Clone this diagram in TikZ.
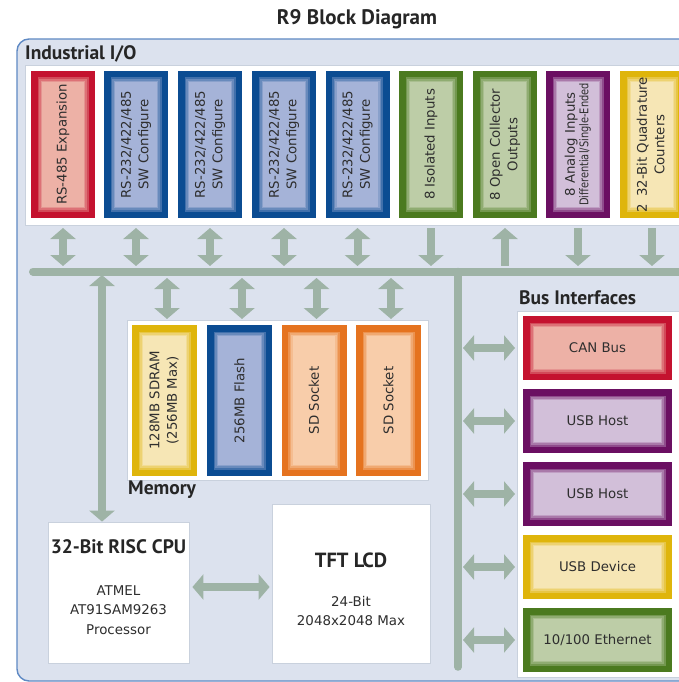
\documentclass[tikz,border=0pt]{standalone}
\usepackage{fontspec}
\usepackage{graphicx}
\usetikzlibrary{arrows.meta}
\newfontfamily\bodyfont{DejaVu Sans}
\newfontfamily\condfont[FakeStretch=0.82]{DejaVu Sans}
\newfontfamily\headfont{PT Sans}
\definecolor{redD}{HTML}{C4122F}\definecolor{redL}{HTML}{EDB1A6}
\definecolor{blueD}{HTML}{0B4C92}\definecolor{blueL}{HTML}{A5B3D8}
\definecolor{greenD}{HTML}{4B7A1F}\definecolor{greenL}{HTML}{BDCDA7}
\definecolor{purpD}{HTML}{6B0F62}\definecolor{purpL}{HTML}{D2BFD9}
\definecolor{yelD}{HTML}{DFB50B}\definecolor{yelL}{HTML}{F6E6B5}
\definecolor{oraD}{HTML}{E5731F}\definecolor{oraL}{HTML}{F8CDAA}
\definecolor{arrc}{HTML}{9EB3A6}
\definecolor{panelF}{HTML}{DCE2EE}
\definecolor{panelB}{HTML}{5F8AC4}
\definecolor{wboxB}{HTML}{C9D1DD}
\definecolor{txt}{HTML}{2E2E2E}
\begin{document}
\begin{tikzpicture}[x=1pt,y=-1pt,
  cbox/.style 2 args={draw=#1, line width=6.5pt, fill=#2, inner sep=0pt,
    path picture={
      \draw[#1!18!#2, line width=16pt] (path picture bounding box.south west) rectangle (path picture bounding box.north east);
      \draw[#1!40!#2, line width=13pt] (path picture bounding box.south west) rectangle (path picture bounding box.north east);
      \draw[#1!65!#2, line width=10pt] (path picture bounding box.south west) rectangle (path picture bounding box.north east);
    }, text=txt, font=\bodyfont\fontsize{13.3}{17.5}\selectfont},
  iobox/.style={minimum width=57.5pt, minimum height=140.5pt},
  membox/.style={minimum width=58.5pt, minimum height=144.5pt},
  busbox/.style={minimum width=142.5pt, minimum height=57.5pt},
  wbox/.style={draw=wboxB, line width=0.8pt, fill=white, inner sep=0pt},
  head/.style={font=\headfont\bfseries\fontsize{19.5}{22}\selectfont, text=black!85, inner sep=0pt},
  body/.style={font=\bodyfont\fontsize{13.4}{19.5}\selectfont, text=txt, inner sep=0pt, align=center},
  busline/.style={draw=arrc, line width=8pt, line cap=round},
  arr/.style={draw=arrc, line width=8pt},
  tip/.tip={Triangle[length=11pt,width=25pt]},
  dbl/.style={arr, tip-tip},
  dn/.style={arr, -tip},
  up/.style={arr, tip-},
]
\useasboundingbox (0,0) rectangle (679,682);
\clip (0,0) rectangle (679,682);
\fill[white] (0,0) rectangle (679,682);

% title
\node[head, font=\headfont\bfseries\fontsize{21}{24}\selectfont] (title) at (357,19) {R9 Block Diagram};

% outer panel
\draw[panelB, fill=panelF, line width=1.4pt, rounded corners=12pt] (17,39) rectangle (720,681);

% Industrial I/O band
\node[head, anchor=west] (iolabel) at (25,54) {Industrial I/O};
\node[wbox, anchor=north west, minimum width=700pt, minimum height=160pt] (ioband) at (25,65) {};

\node[cbox={redD}{redL}, iobox] (io1) at (63,144.5) {\rotatebox{90}{RS-485 Expansion}};
\node[cbox={blueD}{blueL}, iobox] (io2) at (136,144.5) {\rotatebox{90}{\begin{tabular}{@{}c@{}}RS-232/422/485\\SW Configure\end{tabular}}};
\node[cbox={blueD}{blueL}, iobox] (io3) at (210,144.5) {\rotatebox{90}{\begin{tabular}{@{}c@{}}RS-232/422/485\\SW Configure\end{tabular}}};
\node[cbox={blueD}{blueL}, iobox] (io4) at (284,144.5) {\rotatebox{90}{\begin{tabular}{@{}c@{}}RS-232/422/485\\SW Configure\end{tabular}}};
\node[cbox={blueD}{blueL}, iobox] (io5) at (357.5,144.5) {\rotatebox{90}{\begin{tabular}{@{}c@{}}RS-232/422/485\\SW Configure\end{tabular}}};
\node[cbox={greenD}{greenL}, iobox] (io6) at (431,144.5) {\rotatebox{90}{8 Isolated Inputs}};
\node[cbox={greenD}{greenL}, iobox] (io7) at (505,144.5) {\rotatebox{90}{\begin{tabular}{@{}c@{}}8 Open Collector\\Outputs\end{tabular}}};
\node[cbox={purpD}{purpL}, iobox] (io8) at (578,144.5) {\rotatebox{90}{\begin{tabular}{@{}c@{}}8 Analog Inputs\\[-4pt]{\condfont\fontsize{12}{14}\selectfont Differential/Single-Ended}\end{tabular}}};
\node[cbox={yelD}{yelL}, iobox] (io9) at (652,144.5) {\rotatebox{90}{\begin{tabular}{@{}c@{}}2\hspace{7pt}32-Bit Quadrature\\Counters\end{tabular}}};

% main bus
\coordinate (busL) at (33,271.5);
\coordinate (busR) at (700,271.5);
\coordinate (vbTop) at (458,271.5);
\coordinate (vbBot) at (458,667);
\draw[busline] (busL) -- (busR);
\draw[busline, line width=7.5pt] (vbTop) -- (vbBot);

% I/O arrows
\foreach \n in {io1,io2,io3,io4,io5}{
  \draw[dbl, shorten <=10pt, shorten >=5.5pt] (\n.south) -- (\n.south |- busL);
}
\draw[dn, shorten <=10pt, shorten >=5.5pt] (io6.south) -- (io6.south |- busL);
\draw[up, shorten <=10pt, shorten >=5.5pt] (io7.south) -- (io7.south |- busL);
\draw[dn, shorten <=10pt, shorten >=5.5pt] (io8.south) -- (io8.south |- busL);
\draw[dn, shorten <=10pt, shorten >=5.5pt] (io9.south) -- (io9.south |- busL);

% Memory
\node[wbox, minimum width=301pt, minimum height=160pt] (memband) at (277.5,400) {};
\node[head, anchor=west] (memlabel) at (128,490) {Memory};
\node[cbox={yelD}{yelL}, membox] (m1) at (164.5,400.5) {\rotatebox{90}{\begin{tabular}{@{}c@{}}128MB SDRAM\\(256MB Max)\end{tabular}}};
\node[cbox={blueD}{blueL}, membox] (m2) at (239.5,400.5) {\rotatebox{90}{256MB Flash}};
\node[cbox={oraD}{oraL}, membox] (m3) at (314,400.5) {\rotatebox{90}{SD Socket}};
\node[cbox={oraD}{oraL}, membox] (m4) at (388.5,400.5) {\rotatebox{90}{SD Socket}};
\foreach \n in {m1,m2,m3,m4}{
  \draw[dbl, shorten <=6.5pt, shorten >=6pt] ([xshift=2.5pt]\n.north |- busL) -- ([xshift=2.5pt]\n.north);
}

% CPU and TFT
\node[wbox, minimum width=141pt, minimum height=141pt] (cpu) at (118.5,592.5) {};
\node[head] (cputitle) at (118.5,547) {32-Bit RISC CPU};
\node[body] (cputext) at (118.5,610) {ATMEL\\AT91SAM9263\\Processor};
\node[wbox, minimum width=158pt, minimum height=159pt] (tft) at (351,583.5) {};
\node[head, font=\headfont\bfseries\fontsize{20.5}{23}\selectfont] (tfttitle) at (351,560) {TFT LCD};
\node[body] (tfttext) at (351,611) {24-Bit\\2048x2048 Max};
\draw[dbl, shorten <=3pt, shorten >=2pt] (cpu.east |- 0,587) -- (tft.west |- 0,587);

\draw[dbl, shorten <=3.5pt] ([xshift=-16.5pt]cpu.north |- busL) -- ([xshift=-16.5pt]cpu.north);

% Bus interfaces
\node[head, anchor=west] (buslabel) at (519,298) {Bus Interfaces};
\node[wbox, anchor=north west, minimum width=200pt, minimum height=366pt] (busband) at (517,311) {};
\node[cbox={redD}{redL}, busbox] (b1) at (597.5,348) {CAN Bus};
\node[cbox={purpD}{purpL}, busbox] (b2) at (597.5,421) {USB Host};
\node[cbox={purpD}{purpL}, busbox] (b3) at (597.5,494) {USB Host};
\node[cbox={yelD}{yelL}, busbox] (b4) at (597.5,567) {USB Device};
\node[cbox={greenD}{greenL}, busbox] (b5) at (597.5,640) {10/100 Ethernet};
\foreach \n in {b1,b2,b3,b4,b5}{
  \draw[dbl, shorten <=5pt, shorten >=8pt] (vbTop |- \n.west) -- (\n.west);
}
\end{tikzpicture}
\end{document}
